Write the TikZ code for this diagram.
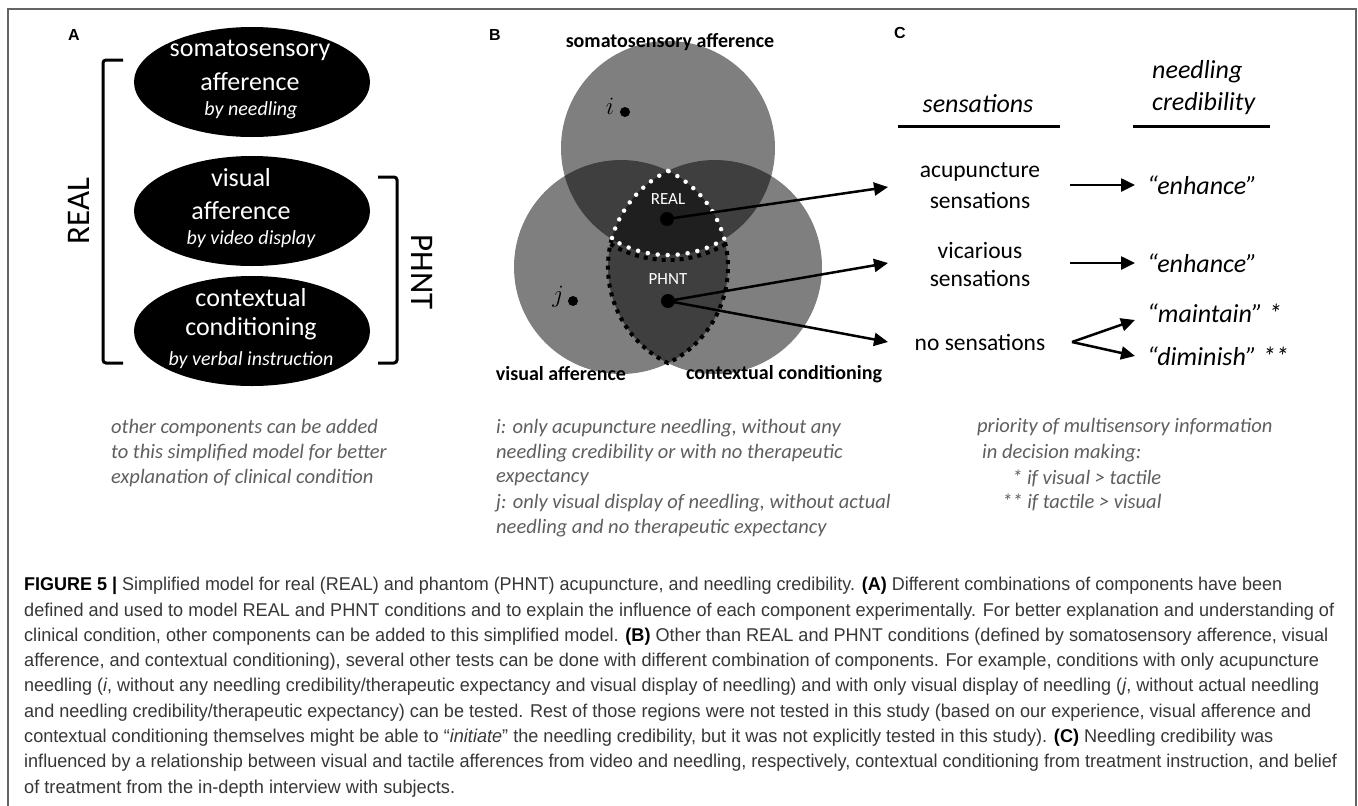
\documentclass[tikz,border=0pt]{standalone}
\usepackage{fontspec}
\usepackage{graphicx}
\setmainfont{Carlito}
\newfontfamily\capfont[FakeStretch=0.85]{Liberation Sans}
\newfontfamily\lblfont{Liberation Sans}
\usetikzlibrary{arrows.meta,shapes.geometric}
\definecolor{notegray}{RGB}{95,95,95}
\definecolor{capgray}{RGB}{55,55,55}
\definecolor{framegray}{RGB}{100,100,100}
\tikzset{
  frameline/.style={draw=framegray, line width=1.5pt},
  panellbl/.style={font=\lblfont\bfseries\fontsize{16}{16}\selectfont, inner sep=0},
  comp/.style={ellipse, fill=black, minimum width=236pt, minimum height=110pt, inner sep=0},
  wtxt/.style={text=white, inner sep=0, font=\fontsize{26}{26}\selectfont},
  wsub/.style={text=white, inner sep=0, font=\itshape\fontsize{20}{20}\selectfont},
  brk/.style={line width=3pt, rounded corners=3pt},
  bigtxt/.style={inner sep=0, font=\fontsize{33}{33}\selectfont},
  venn/.style={circle, fill=black, fill opacity=0.5, minimum size=214pt, inner sep=0},
  bold20/.style={inner sep=0, font=\bfseries\fontsize{20}{20}\selectfont},
  dotbig/.style={circle, fill=black, minimum size=14pt, inner sep=0},
  dotsmall/.style={circle, fill=black, minimum size=10pt, inner sep=0},
  inreg/.style={text=white, inner sep=0, font=\fontsize{17}{17}\selectfont},
  wdots/.style={draw=white, line width=4.5pt, dash pattern=on 0pt off 10pt, line cap=round},
  bdots/.style={draw=black, line width=4pt, dash pattern=on 4pt off 5pt},
  arr/.style={line width=2.5pt, -{Triangle[length=14pt,width=13pt]}},
  headtxt/.style={inner sep=0, font=\itshape\fontsize{26}{26}\selectfont},
  sens/.style={inner sep=0, font=\fontsize{23.5}{23.5}\selectfont},
  cred/.style={inner sep=0, anchor=west, font=\itshape\fontsize{26}{26}\selectfont},
  note/.style={inner sep=0, anchor=west, text=notegray, font=\itshape\fontsize{20.5}{20.5}\selectfont},
  captxt/.style={inner sep=0, anchor=west, text=capgray, font=\capfont\fontsize{18.5}{18.5}\selectfont},
  uline/.style={line width=3pt}
}
\begin{document}
\begin{tikzpicture}[x=1pt,y=1pt]
\useasboundingbox (0,0) rectangle (1358,-806);
\fill[white] (0,0) rectangle (1358,-806);
% frame
\draw[frameline] (8,-806) -- (8,-9) -- (1356,-9) -- (1356,-806);

% ---------- Panel A ----------
\node[panellbl] (la) at (74,-35) {A};
\node[comp] (e1) at (252,-82) {};
\node[comp] (e2) at (252,-211) {};
\node[comp] (e3) at (252,-331) {};
\node[wtxt] (e1a) at (250,-50) {somatosensory};
\node[wtxt] (e1b) at (250,-82) {afference};
\node[wsub] (e1c) at (251,-110) {by needling};
\node[wtxt] (e2a) at (241,-178) {visual};
\node[wtxt] (e2b) at (241,-211) {afference};
\node[wsub] (e2c) at (251,-239) {by video display};
\node[wtxt] (e3a) at (251,-298) {contextual};
\node[wtxt] (e3b) at (251,-329) {conditioning};
\node[wsub] (e3c) at (251,-360) {by verbal instruction};
\draw[brk] (123,-60) -- (103,-60) -- (103,-363) -- (123,-363);
\draw[brk] (378,-177) -- (397,-177) -- (397,-363) -- (378,-363);
\node[bigtxt, rotate=90] (real) at (79,-211) {REAL};
\node[bigtxt, rotate=-90] (phnt) at (422,-272) {PHNT};

% ---------- Panel B ----------
\node[panellbl] (lb) at (495,-35) {B};
\node[venn] (ct) at (668,-148) {};
\node[venn] (cl) at (621,-267) {};
\node[venn] (cr) at (715,-267) {};
% PHNT outline (black squares)
\draw[bdots] (611.7,-239) arc[start angle=164.83, end angle=243.94, radius=107]
  arc[start angle=-63.94, end angle=15.17, radius=107];
\draw[bdots] (668,-148) ++(301:112) arc[start angle=301, end angle=239, radius=112];
% REAL outline (white dots)
\draw[wdots] (668,-170.9) arc[start angle=116.06, end angle=164.83, radius=107]
  arc[start angle=238.26, end angle=301.74, radius=107]
  arc[start angle=15.17, end angle=63.94, radius=107];
\node[bold20] (bsoma) at (670,-42) {somatosensory afference};
\node[bold20] (bvis) at (561,-374) {visual afference};
\node[bold20] (bctx) at (784,-374) {contextual conditioning};
\node[inner sep=0, font=\fontsize{24}{24}\selectfont] (il) at (610,-106) {$i$};
\node[dotsmall] (idot) at (625,-112) {};
\node[inner sep=0, font=\fontsize{24}{24}\selectfont] (jl) at (558,-297) {$j$};
\node[dotsmall] (jdot) at (573,-301) {};
\node[inreg] (realt) at (668,-199) {REAL};
\node[dotbig] (realdot) at (667,-219) {};
\node[inreg] (phntt) at (668,-279) {PHNT};
\node[dotbig] (phntdot) at (668,-301) {};
\coordinate (t1) at (888,-187);
\coordinate (t2) at (888,-263);
\coordinate (t3) at (888,-342);
\draw[arr] (realdot.center) -- (t1);
\draw[arr] (phntdot.center) -- (t2);
\draw[arr] (phntdot.center) -- (t3);

% ---------- Panel C ----------
\node[panellbl] (lc) at (900,-33) {C};
\node[headtxt] (hsens) at (978,-104) {sensations};
\draw[uline] (898,-126) -- (1060,-126);
\node[cred] (hneed) at (1152,-72) {needling};
\node[cred] (hcred) at (1152,-104) {credibility};
\draw[uline] (1133,-126) -- (1270,-126);
\node[sens] (acu1) at (980,-172) {acupuncture};
\node[sens] (acu2) at (980,-200) {sensations};
\node[sens] (vic1) at (980,-250) {vicarious};
\node[sens] (vic2) at (980,-278) {sensations};
\node[sens] (nos) at (980,-342) {no sensations};
\node[cred] (enh1) at (1147,-185) {“enhance”};
\node[cred] (enh2) at (1147,-263) {“enhance”};
\node[cred] (maint) at (1147,-313) {“maintain” *};
\node[cred] (dimin) at (1147,-356) {“diminish” **};
\coordinate (a1s) at (1070,-185);
\coordinate (a1e) at (1135,-185);
\coordinate (a2s) at (1070,-263);
\coordinate (a2e) at (1135,-263);
\coordinate (fk) at (1072,-342);
\coordinate (fku) at (1135,-320);
\coordinate (fkd) at (1135,-356);
\draw[arr] (a1s) -- (a1e);
\draw[arr] (a2s) -- (a2e);
\draw[arr] (fk) -- (fku);
\draw[arr] (fk) -- (fkd);

% ---------- notes ----------
\node[note] at (111,-428) {other components can be added};
\node[note] at (111,-453) {to this simplified model for better};
\node[note] at (111,-478) {explanation of clinical condition};
\node[note] at (496,-428) {i: only acupuncture needling, without any};
\node[note] at (496,-453) {needling credibility or with no therapeutic};
\node[note] at (496,-478) {expectancy};
\node[note] at (496,-503) {j: only visual display of needling, without actual};
\node[note] at (496,-528) {needling and no therapeutic expectancy};
\node[note] at (977,-427) {priority of multisensory information};
\node[note] at (982,-453) {in decision making:};
\node[note] at (1012,-478) {* if visual > tactile};
\node[note] at (1002,-502) {** if tactile > visual};

% ---------- caption ----------
\node[captxt] at (24,-586) {\resizebox{1258pt}{\height}{\textcolor{black}{\bfseries FIGURE 5 |} Simplified model for real (REAL) and phantom (PHNT) acupuncture, and needling credibility. \textcolor{black}{\bfseries (A)} Different combinations of components have been}};
\node[captxt] at (24,-611.3) {\resizebox{1310pt}{\height}{defined and used to model REAL and PHNT conditions and to explain the influence of each component experimentally. For better explanation and understanding of}};
\node[captxt] at (24,-636.6) {\resizebox{1304pt}{\height}{clinical condition, other components can be added to this simplified model. \textcolor{black}{\bfseries (B)} Other than REAL and PHNT conditions (defined by somatosensory afference, visual}};
\node[captxt] at (24,-661.9) {\resizebox{1295pt}{\height}{afference, and contextual conditioning), several other tests can be done with different combination of components. For example, conditions with only acupuncture}};
\node[captxt] at (24,-687.2) {\resizebox{1295pt}{\height}{needling (\textit{i}, without any needling credibility/therapeutic expectancy and visual display of needling) and with only visual display of needling (\textit{j}, without actual needling}};
\node[captxt] at (24,-712.5) {\resizebox{1287pt}{\height}{and needling credibility/therapeutic expectancy) can be tested. Rest of those regions were not tested in this study (based on our experience, visual afference and}};
\node[captxt] at (24,-737.8) {\resizebox{1249pt}{\height}{contextual conditioning themselves might be able to “\textit{initiate}” the needling credibility, but it was not explicitly tested in this study). \textcolor{black}{\bfseries (C)} Needling credibility was}};
\node[captxt] at (24,-763.1) {\resizebox{1313pt}{\height}{influenced by a relationship between visual and tactile afferences from video and needling, respectively, contextual conditioning from treatment instruction, and belief}};
\node[captxt] at (24,-788.4) {\resizebox{431pt}{\height}{of treatment from the in-depth interview with subjects.}};
\end{tikzpicture}
\end{document}
